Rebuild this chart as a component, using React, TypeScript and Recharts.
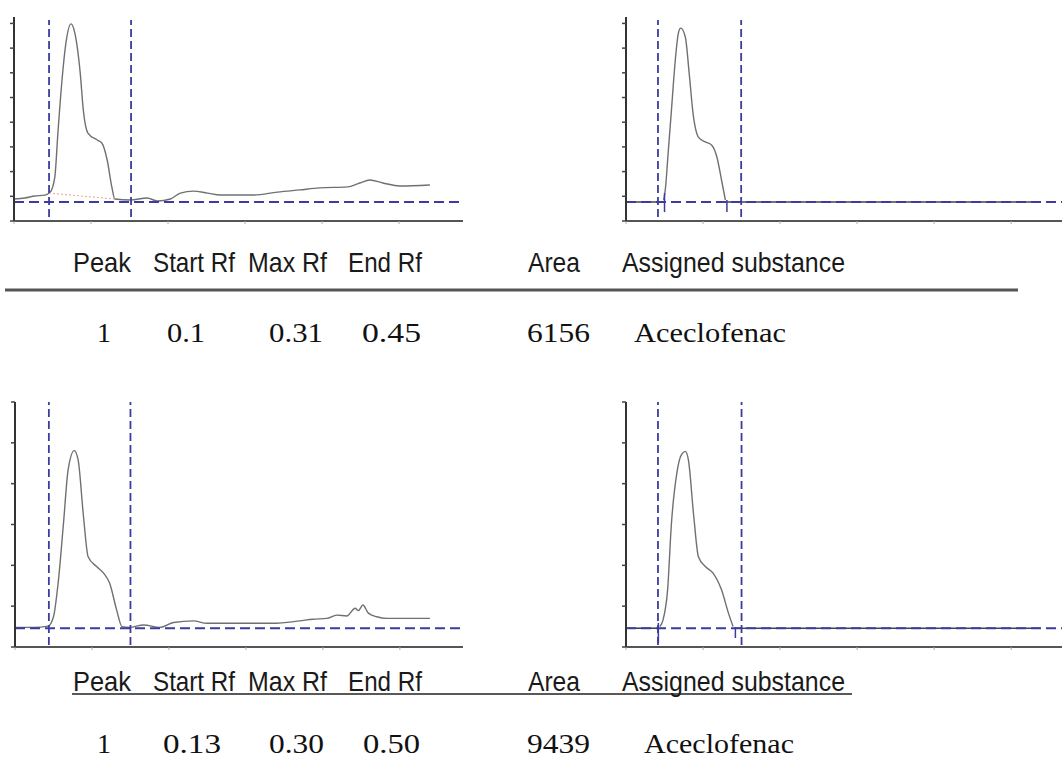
import React from 'react';
import { LineChart, Line, XAxis, YAxis, ReferenceLine } from 'recharts';

// ---- Data: chromatogram traces (Rf position in axis units, signal height in axis units)
const topLeftRf = [0.01, 0.14, 0.27, 0.40, 0.47, 0.53, 0.57, 0.62, 0.68, 0.74, 0.79, 0.86, 0.90, 0.96, 1.08, 1.14, 1.21, 1.27, 1.31, 1.51, 1.73, 1.86, 2.03, 2.16, 2.33, 2.51, 2.68, 3.10, 3.42, 3.71, 3.97, 4.33, 4.49, 4.62, 4.79, 5.01, 5.40];
const topLeftSignal = [0.89, 0.93, 1.01, 1.05, 1.17, 1.78, 3.56, 5.59, 7.33, 7.98, 7.61, 5.99, 4.49, 3.56, 3.28, 3.16, 2.47, 1.38, 0.89, 0.85, 0.93, 0.81, 0.89, 1.13, 1.21, 1.13, 1.05, 1.05, 1.17, 1.26, 1.34, 1.38, 1.54, 1.66, 1.54, 1.42, 1.46];

const topRightRf = [0.49, 0.51, 0.55, 0.59, 0.64, 0.68, 0.71, 0.77, 0.82, 0.87, 0.94, 1.03, 1.11, 1.18, 1.24, 1.29];
const topRightSignal = [0.85, 1.26, 2.87, 4.49, 6.52, 7.61, 7.81, 7.45, 5.99, 4.37, 3.40, 3.20, 3.08, 2.59, 1.66, 0.85];

const bottomLeftRf = [0, 0.24, 0.43, 0.50, 0.56, 0.63, 0.69, 0.77, 0.82, 0.89, 0.95, 1.06, 1.15, 1.23, 1.32, 1.39, 1.49, 1.67, 1.88, 2.06, 2.32, 2.49, 2.84, 3.35, 3.70, 3.87, 4.05, 4.18, 4.31, 4.42, 4.46, 4.52, 4.59, 4.70, 4.83, 5.39];
const bottomLeftSignal = [0.48, 0.48, 0.51, 0.74, 1.56, 3.03, 4.34, 4.81, 4.58, 3.19, 2.21, 1.97, 1.81, 1.56, 0.91, 0.50, 0.48, 0.54, 0.48, 0.60, 0.64, 0.58, 0.58, 0.58, 0.64, 0.68, 0.70, 0.78, 0.76, 0.95, 0.89, 1.03, 0.83, 0.74, 0.70, 0.70];

const bottomRightRf = [0.44, 0.48, 0.54, 0.59, 0.66, 0.72, 0.77, 0.81, 0.88, 0.94, 1.03, 1.13, 1.24, 1.33, 1.39];
const bottomRightSignal = [0.50, 0.66, 1.40, 3.03, 4.26, 4.71, 4.79, 4.58, 3.19, 2.21, 1.97, 1.81, 1.40, 0.83, 0.50];

// Peak window markers (start / end) and baseline levels
const topLeftWindow = [0.455, 1.52];
const topRightWindow = [0.415, 1.495];
const bottomLeftWindow = [0.44, 1.5];
const bottomRightWindow = [0.415, 1.5];
const topBaseline = 0.77;
const bottomBaseline = 0.46;

const topYTicks = [0, 1, 2, 3, 4, 5, 6, 7, 8];
const bottomYTicks = [0, 1, 2, 3, 4, 5, 6];
const xTicks = [0, 1, 2, 3, 4, 5];

// ---- Table texts
const headerLabels = ['Peak', 'Start Rf', 'Max Rf', 'End Rf', 'Area', 'Assigned substance'];
const topRowValues = ['1', '0.1', '0.31', '0.45', '6156', 'Aceclofenac'];
const bottomRowValues = ['1', '0.13', '0.30', '0.50', '9439', 'Aceclofenac'];

const zip = (xs: number[], ys: number[]) => xs.map((x, i) => ({ rf: x, v: ys[i] }));

const BLUE = '#3c3c9e';
const TRACE = '#707070';

type Seg = { x1: number; y1: number; x2: number; y2: number; color: string; width: number; dash?: string };

function Chromatogram(props: {
  left: number; top: number; width: number; height: number; marginTop: number; yAxisWidth: number;
  xMax: number; yMax: number; yTicks: number[]; rf: number[]; signal: number[];
  windowX: number[]; winY: [number, number]; baseline: number; extra?: Seg[];
}) {
  const data = zip(props.rf, props.signal);
  return (
    <div style={{ position: 'absolute', left: props.left, top: props.top }}>
      <LineChart width={props.width} height={props.height} data={data}
        margin={{ top: props.marginTop, right: 0, bottom: 0, left: 0 }}>
        <XAxis dataKey="rf" type="number" domain={[0, props.xMax]} ticks={xTicks} height={10}
          tickFormatter={() => ''} tickSize={3} allowDataOverflow
          axisLine={{ stroke: '#555', strokeWidth: 2 }} tickLine={{ stroke: '#aaa' }} />
        <YAxis type="number" domain={[0, props.yMax]} ticks={props.yTicks} width={props.yAxisWidth}
          tickFormatter={() => ''} tickSize={4} allowDataOverflow
          axisLine={{ stroke: '#333', strokeWidth: 2 }} tickLine={{ stroke: '#444', strokeWidth: 1.5 }} />
        <Line dataKey="v" type="monotone" stroke={TRACE} strokeWidth={1.4} dot={false} isAnimationActive={false} />
        {(props.extra || []).map((s, i) => (
          <ReferenceLine key={'e' + i} segment={[{ x: s.x1, y: s.y1 }, { x: s.x2, y: s.y2 }]}
            stroke={s.color} strokeWidth={s.width} strokeDasharray={s.dash} ifOverflow="visible" />
        ))}
        <ReferenceLine y={props.baseline} stroke={BLUE} strokeWidth={2} strokeDasharray="10 5" />
        {props.windowX.map((x, i) => (
          <ReferenceLine key={'w' + i} segment={[{ x, y: props.winY[0] }, { x, y: props.winY[1] }]}
            stroke={BLUE} strokeWidth={1.8} strokeDasharray="8 4" ifOverflow="visible" />
        ))}
      </LineChart>
    </div>
  );
}

const headerX = [73, 153, 248, 348, 528, 622];
const headerW = [58, 82, 79, 74, 52, 223];
const topRowX = [97, 167, 269, 362, 527, 634];
const topRowW = [0, 38, 54, 59, 63, 152];
const bottomRowX = [97, 163, 269, 363, 527, 644];
const bottomRowW = [0, 58, 55, 57, 63, 150];

function TableText() {
  const header = (y: number) => headerLabels.map((t, i) => (
    <text key={'h' + y + i} x={headerX[i]} y={y} textLength={headerW[i]} lengthAdjust="spacingAndGlyphs"
      fontFamily="'Liberation Sans', Arial, sans-serif" fontSize={28} fill="#1a1a1a">{t}</text>
  ));
  const row = (vals: string[], xs: number[], ws: number[], y: number) => vals.map((t, i) => (
    <text key={'r' + y + i} x={xs[i]} y={y} textLength={ws[i] || undefined} lengthAdjust="spacingAndGlyphs"
      fontFamily="'Liberation Serif', 'Times New Roman', serif" fontSize={28} fill="#111">{t}</text>
  ));
  return (
    <svg width={1062} height={761} style={{ position: 'absolute', left: 0, top: 0 }}>
      {header(272)}
      <line x1={5} y1={290} x2={1018} y2={290} stroke="#555" strokeWidth={3} />
      {row(topRowValues, topRowX, topRowW, 342)}
      {header(691)}
      <line x1={72} y1={694} x2={852} y2={694} stroke="#222" strokeWidth={1.5} />
      {row(bottomRowValues, bottomRowX, bottomRowW, 753)}
    </svg>
  );
}

export default function App() {
  return (
    <div style={{ position: 'absolute', left: 0, top: 0, width: 1062, height: 761, background: '#fff', overflow: 'hidden' }}>
      <Chromatogram left={0} top={0} width={463} height={231} marginTop={17} yAxisWidth={14}
        xMax={5.83} yMax={8.26} yTicks={topYTicks} rf={topLeftRf} signal={topLeftSignal}
        windowX={topLeftWindow} winY={[0.16, 8.14]} baseline={topBaseline}
        extra={[{ x1: 0.455, y1: 1.13, x2: 1.31, y2: 0.89, color: '#e6a0a0', width: 1, dash: '2 2' }]} />
      <Chromatogram left={590} top={0} width={472} height={231} marginTop={17} yAxisWidth={36}
        xMax={5.66} yMax={8.26} yTicks={topYTicks} rf={topRightRf} signal={topRightSignal}
        windowX={topRightWindow} winY={[0.16, 8.14]} baseline={topBaseline}
        extra={[
          { x1: 0, y1: topBaseline, x2: 0.42, y2: topBaseline, color: '#444', width: 1.6 },
          { x1: 1.3, y1: topBaseline, x2: 5.38, y2: topBaseline, color: '#444', width: 1.6 },
          { x1: 0.5, y1: 1.13, x2: 0.5, y2: 0.36, color: BLUE, width: 1.5 },
          { x1: 1.31, y1: 0.85, x2: 1.31, y2: 0.36, color: BLUE, width: 1.5 },
        ]} />
      <Chromatogram left={0} top={390} width={463} height={267} marginTop={12} yAxisWidth={15}
        xMax={5.82} yMax={6} yTicks={bottomYTicks} rf={bottomLeftRf} signal={bottomLeftSignal}
        windowX={bottomLeftWindow} winY={[0.05, 6]} baseline={bottomBaseline} />
      <Chromatogram left={590} top={390} width={472} height={267} marginTop={12} yAxisWidth={36}
        xMax={5.66} yMax={6} yTicks={bottomYTicks} rf={bottomRightRf} signal={bottomRightSignal}
        windowX={bottomRightWindow} winY={[0.05, 6]} baseline={bottomBaseline}
        extra={[
          { x1: 0, y1: bottomBaseline, x2: 0.4, y2: bottomBaseline, color: '#444', width: 1.6 },
          { x1: 1.42, y1: bottomBaseline, x2: 5.38, y2: bottomBaseline, color: '#444', width: 1.6 },
          { x1: 0.42, y1: 0.59, x2: 0.42, y2: 0.1, color: BLUE, width: 1.5 },
          { x1: 1.42, y1: 0.49, x2: 1.42, y2: 0.22, color: BLUE, width: 1.5 },
        ]} />
      <TableText />
    </div>
  );
}
